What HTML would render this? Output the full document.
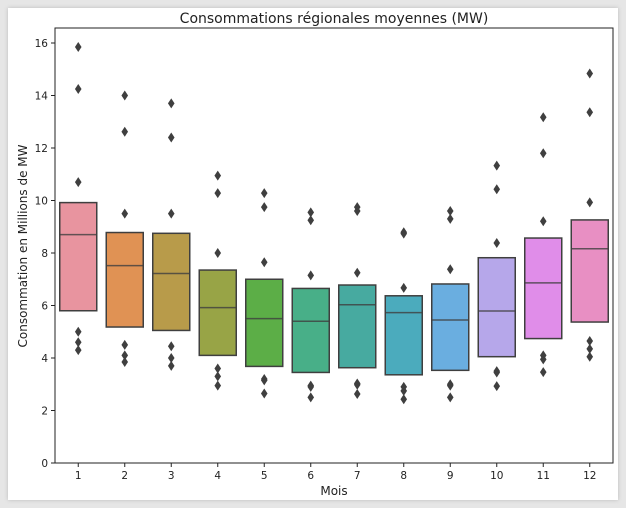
<!DOCTYPE html>
<html><head><meta charset="utf-8"><style>
html,body{margin:0;padding:0;background:#fff;}
#wrap{position:relative;width:626px;height:508px;background:#e6e6e6;}
#card{position:absolute;left:8px;top:8px;width:610px;height:492px;background:#fff;box-shadow:0 0 4px #bbb;}
svg{position:absolute;left:0;top:0;}
text{font-family:"DejaVu Sans","Liberation Sans",sans-serif;fill:#222;}
</style></head><body>
<div id="wrap">
<div id="card"></div>
<svg id="chart" width="626" height="508"></svg>
</div>
<script>
const months=["1","2","3","4","5","6","7","8","9","10","11","12"];
const q1=[5.8,5.18,5.05,4.1,3.68,3.45,3.63,3.36,3.53,4.05,4.74,5.37];
const q3=[9.92,8.78,8.75,7.35,7.0,6.65,6.78,6.37,6.82,7.82,8.57,9.26];
const medians=[8.7,7.52,7.22,5.92,5.5,5.4,6.03,5.73,5.45,5.79,6.86,8.16];
const outliers=[
[15.85,14.25,10.7,5.0,4.6,4.3],
[14.0,12.62,9.5,4.5,4.1,3.85],
[13.7,12.4,9.5,4.45,4.0,3.7],
[10.95,10.28,8.0,3.6,3.3,2.95],
[10.28,9.75,7.65,3.2,3.15,2.65],
[9.55,9.25,7.15,2.95,2.9,2.5],
[9.75,9.6,7.25,3.03,2.98,2.63],
[8.79,8.74,6.67,2.9,2.75,2.43],
[9.6,9.3,7.38,3.0,2.95,2.5],
[11.33,10.43,8.38,3.5,3.45,2.93],
[13.17,11.8,9.21,4.1,3.95,3.46],
[14.84,13.36,9.93,4.65,4.35,4.05]];
const yTicks=[0,2,4,6,8,10,12,14,16];
const colors=["#e8949f","#e09254","#b89b4a","#98a446","#5cae47","#48af88","#47aaa0","#4babbd","#6aaee0","#b6a7ea","#e08de9","#e88fc3"];

const L=55,R=613,T=28,B=463;
const yScale=v=>B-(v/16)*(B-43);
const xScale=i=>L+(R-L)*(i+0.5)/months.length;
const NS="http://www.w3.org/2000/svg";
const svg=document.getElementById('chart');
function mk(tag,attrs,parent){const e=document.createElementNS(NS,tag);for(const k in attrs)e.setAttribute(k,attrs[k]);(parent||svg).appendChild(e);return e;}

const title=mk('text',{x:334,y:23,'text-anchor':'middle','font-size':14});
title.textContent="Consommations régionales moyennes (MW)";



yTicks.forEach(t=>{
  const y=yScale(t);
  const tk=mk('line',{x1:L-4,x2:L,y1:y,y2:y,stroke:'#222','stroke-width':1});
  
  
  const lb=mk('text',{x:L-7,y:y+4,'text-anchor':'end','font-size':10.5});
  lb.textContent=t;
  
  
});

const bw=37;
months.forEach((m,i)=>{
  const cx=xScale(i);
  const g=mk('g',{});
  
  
  const r=mk('rect',{x:cx-bw/2,y:yScale(q3[i]),width:bw,height:yScale(q1[i])-yScale(q3[i]),fill:colors[i],stroke:'#3f3f3f','stroke-width':1.5},g);
  
  
  const md=mk('line',{x1:cx-bw/2,x2:cx+bw/2,y1:yScale(medians[i]),y2:yScale(medians[i]),stroke:'#3f3f3f','stroke-width':1.5,'stroke-opacity':0.8},g);
  
  
  outliers[i].forEach(v=>{
    const y=yScale(v);
    const p=mk('path',{d:`M${cx} ${y-5}L${cx+3.3} ${y}L${cx} ${y+5}L${cx-3.3} ${y}Z`,fill:'#3f3f3f'},g);
    
    
  });
  const tk=mk('line',{x1:cx,x2:cx,y1:B,y2:B+4,stroke:'#222','stroke-width':1});
  
  
  const lb=mk('text',{x:cx,y:B+16,'text-anchor':'middle','font-size':10.5});
  lb.textContent=m;
  
  
});

const frame=mk('rect',{x:L,y:T,width:R-L,height:B-T,fill:'none',stroke:'#222','stroke-width':1});



const xl=mk('text',{x:334,y:495,'text-anchor':'middle','font-size':12});
xl.textContent="Mois";


const yl=mk('text',{x:0,y:0,'text-anchor':'middle','font-size':12,transform:'translate(27,246) rotate(-90)'});
yl.textContent="Consommation en Millions de MW";


</script>
</body></html>
